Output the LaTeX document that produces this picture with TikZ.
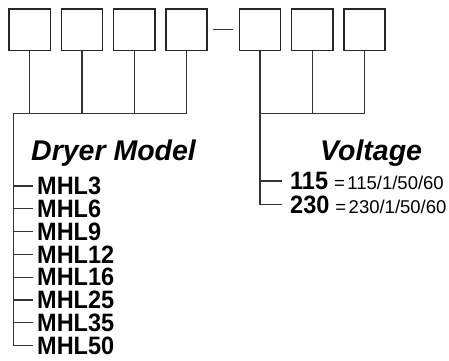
\documentclass[tikz,border=0pt]{standalone}
\usepackage{fontspec}
\setmainfont{Liberation Sans}
\usepackage{tikz}
\usetikzlibrary{calc}
\newcommand{\tallbold}[1]{\scalebox{1}[1.07]{\fontsize{23.5}{24}\selectfont\bfseries #1}}
\tikzset{
	codebox/.style={draw=black!85, line width=1.4pt, minimum size=41.3pt, inner sep=0pt},
	link/.style={draw=black!80, line width=1.2pt},
	heading/.style={inner sep=0pt, font=\fontsize{28.5}{30}\selectfont\bfseries\itshape},
	model/.style={anchor=west, inner xsep=4pt, inner ysep=0pt},
	volt/.style={anchor=west, inner xsep=8pt, inner ysep=0pt, font=\fontsize{18.5}{20}\selectfont}
}
\begin{document}
\begin{tikzpicture}[x=1pt, y=-1pt]
			%%%%% START %%%%%
			
			\useasboundingbox (0, 0) rectangle (449, 360);
			
			% code boxes
			\foreach \x [count=\i] in {29.7, 81.9, 134.2, 186.5, 259.9, 312.2, 364.5}
				\node[codebox] (b\i) at (\x, 29.6) {};
			\draw[link] ([xshift=5.3pt]b4.east) -- ([xshift=-5.3pt]b5.west);
			
			% headings
			\node[heading, anchor=west] (dryer) at (31, 153) {Dryer Model};
			\node[heading, anchor=west] (voltage) at (320, 153) {Voltage};
			
			% dryer models
			\foreach \m [count=\i from 0] in {3, 6, 9, 12, 16, 25, 35, 50}
				\node[model] (m\i) at (33, 186 + 22.8*\i) {\tallbold{MHL\m}};
			
			% voltages
			\node[volt] (v1) at (282, 181) {\tallbold{115}\hspace{6pt}=\hspace{2.5pt}115/1/50/60};
			\node[volt] (v2) at (282, 204.5) {\tallbold{230}\hspace{6pt}=\hspace{2.5pt}230/1/50/60};
			
			% left branch
			\coordinate (ltop) at (13.3, 113.3);
			\foreach \b in {b1, b2, b3}
				\draw[link] (\b.south) -- (\b.south |- ltop);
			\draw[link] (m7.west -| ltop) -- (ltop) -| (b4.south);
			\foreach \i in {0, ..., 7}
				\draw[link] (m\i.west -| ltop) -- (m\i.west);
			
			% right branch
			\coordinate (rtop) at (b5.south |- ltop);
			\draw[link] (b5.south) -- (v2.west -| rtop) -- (v2.west);
			\draw[link] (v1.west -| rtop) -- (v1.west);
			\draw[link] (rtop) -| (b7.south);
			\draw[link] (b6.south) -- (b6.south |- rtop);
			
			%%%%% END %%%%%
\end{tikzpicture}
\end{document}
